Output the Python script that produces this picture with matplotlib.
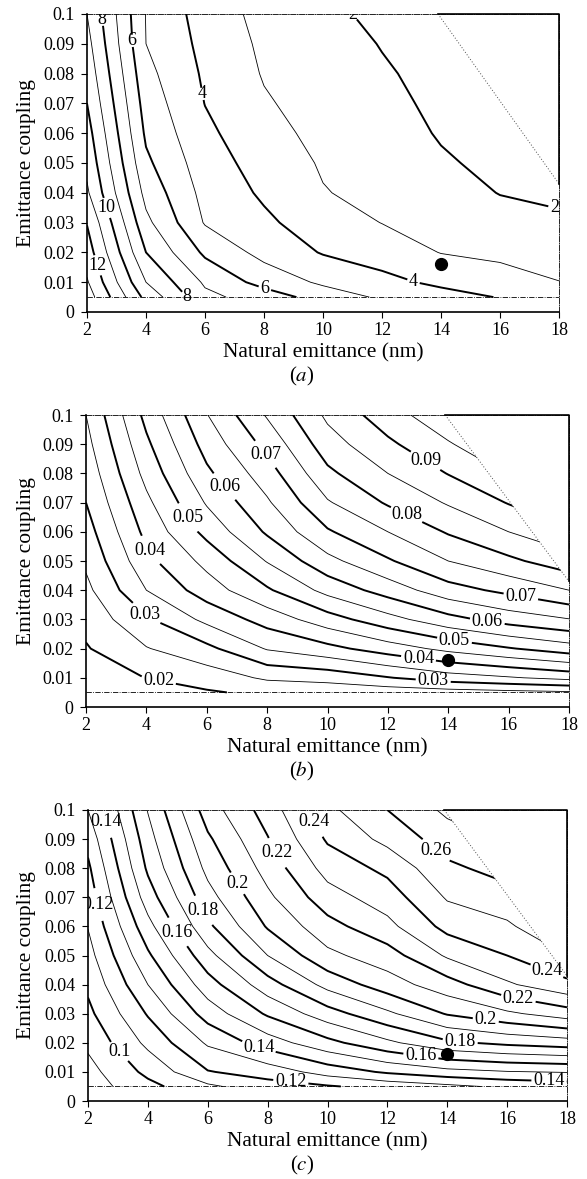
import matplotlib
matplotlib.use('Agg')
import matplotlib.pyplot as plt
import numpy as np
from matplotlib.patches import Polygon

plt.rcParams['font.family'] = ['Liberation Serif', 'DejaVu Serif']
plt.rcParams['mathtext.fontset'] = 'stix'

# grid: columns follow emit_nm, rows follow coupling
emit_nm = [2, 4, 6, 8, 10, 12, 14, 16, 18]
coupling = [0.005, 0.01, 0.02, 0.03, 0.04, 0.05, 0.06, 0.07, 0.08, 0.09, 0.1]

a_vals = [
    [13.5, 9.7, 7.25, 6.55, 5.55, 4.85, 4.4, 3.95, 3.65],
    [13.1, 9.0, 6.85, 5.63, 4.83, 4.29, 3.78, 3.47, 3.02],
    [12.5, 8.0, 5.81, 4.68, 3.93, 3.53, 2.97, 2.76, 2.58],
    [11.95, 7.25, 4.92, 4.19, 3.47, 2.98, 2.68, 2.36, 2.13],
    [11.15, 6.68, 4.68, 3.85, 3.05, 2.72, 2.40, 1.97, 1.85],
    [10.75, 6.20, 4.45, 3.60, 2.90, 2.56, 2.10, 1.80, 1.70],
    [10.4, 5.83, 4.21, 3.35, 2.71, 2.38, 1.93, 1.68, 1.60],
    [10.0, 5.56, 3.98, 3.10, 2.61, 2.23, 1.82, 1.60, 1.52],
    [9.65, 5.28, 3.85, 2.93, 2.52, 2.10, 1.73, 1.53, 1.46],
    [9.33, 5.00, 3.72, 2.82, 2.39, 1.96, 1.65, 1.47, 1.41],
    [9.0, 4.96, 3.55, 2.70, 2.15, 1.85, 1.58, 1.42, 1.36],
]
b_vals = [
    [0.0155, 0.0165, 0.0195, 0.0210, 0.0215, 0.0220, 0.0228, 0.0236, 0.0243],
    [0.0172, 0.0201, 0.0222, 0.0258, 0.0268, 0.0297, 0.0327, 0.0345, 0.0365],
    [0.0196, 0.0247, 0.0287, 0.0354, 0.0385, 0.0425, 0.0464, 0.0496, 0.0527],
    [0.0215, 0.0293, 0.0363, 0.0420, 0.0478, 0.0532, 0.0583, 0.0622, 0.0648],
    [0.0237, 0.0350, 0.0425, 0.0493, 0.0566, 0.0622, 0.0680, 0.0713, 0.0750],
    [0.0259, 0.0386, 0.0465, 0.0553, 0.0635, 0.0694, 0.0750, 0.0789, 0.0830],
    [0.0279, 0.0414, 0.0515, 0.0607, 0.0694, 0.0750, 0.0805, 0.0850, 0.0890],
    [0.0300, 0.0438, 0.0555, 0.0643, 0.0745, 0.0806, 0.0855, 0.0903, 0.0947],
    [0.0317, 0.0466, 0.0590, 0.0677, 0.0789, 0.0850, 0.0902, 0.0953, 0.0997],
    [0.0334, 0.0490, 0.0620, 0.0715, 0.0828, 0.0890, 0.0945, 0.0997, 0.1045],
    [0.0350, 0.0515, 0.0648, 0.0755, 0.0860, 0.0928, 0.0986, 0.1040, 0.1090],
]
c_vals = [
    [0.085, 0.097, 0.108, 0.116, 0.119, 0.1235, 0.1275, 0.132, 0.1345],
    [0.0865, 0.1026, 0.1194, 0.1242, 0.1342, 0.1415, 0.1467, 0.1494, 0.1506],
    [0.092, 0.1125, 0.1314, 0.1451, 0.157, 0.1678, 0.1781, 0.1824, 0.1853],
    [0.0975, 0.1209, 0.1444, 0.1614, 0.1756, 0.188, 0.2008, 0.2081, 0.2151],
    [0.102, 0.130, 0.1556, 0.1757, 0.1933, 0.2053, 0.2157, 0.2285, 0.2374],
    [0.1063, 0.1383, 0.1667, 0.190, 0.2075, 0.2155, 0.2314, 0.240, 0.250],
    [0.1104, 0.1467, 0.1778, 0.201, 0.2164, 0.2271, 0.2432, 0.2483, 0.260],
    [0.1144, 0.155, 0.1862, 0.2079, 0.2258, 0.235, 0.251, 0.2562, 0.270],
    [0.1181, 0.1617, 0.1928, 0.2139, 0.2338, 0.2425, 0.2579, 0.2638, 0.278],
    [0.1233, 0.1661, 0.1983, 0.2194, 0.2413, 0.2529, 0.265, 0.2715, 0.286],
    [0.130, 0.1705, 0.205, 0.2245, 0.2475, 0.260, 0.2721, 0.279, 0.294],
]

a_major = [2, 4, 6, 8, 10, 12]
a_minor = [3, 5, 7, 9, 11, 13]
b_major = [0.02, 0.03, 0.04, 0.05, 0.06, 0.07, 0.08, 0.09]
b_minor = [0.025, 0.035, 0.045, 0.055, 0.065, 0.075, 0.085, 0.095]
c_major = [0.10, 0.12, 0.14, 0.16, 0.18, 0.20, 0.22, 0.24, 0.26]
c_minor = [0.09, 0.11, 0.13, 0.15, 0.17, 0.19, 0.21, 0.23, 0.25, 0.27]

# upper right corner was not computed
edge_x = [13.9, 18.0]
edge_y = [0.1, 0.043]

design_x = 14
design_y = 0.016

ytick_text = ['0', '0.01', '0.02', '0.03', '0.04', '0.05', '0.06', '0.07', '0.08', '0.09', '0.1']

# where the inline labels sit
a_spots = [(2.45, 0.098), (3.55, 0.091), (5.8, 0.073), (10.9, 0.099), (2.7, 0.035),
           (2.3, 0.0155), (5.4, 0.0055), (8.0, 0.007), (13.0, 0.0085), (17.8, 0.033)]
b_spots = [(8.0, 0.087), (6.6, 0.0756), (5.33, 0.0646), (4.17, 0.054), (3.9, 0.031),
           (4.4, 0.0088), (13.2, 0.0836), (12.6, 0.0655), (16.4, 0.0376), (15.3, 0.0297),
           (14.2, 0.0224), (13.0, 0.0156), (13.5, 0.0088)]
c_spots = [(2.53, 0.0958), (2.34, 0.0675), (2.85, 0.0153), (4.83, 0.057), (5.78, 0.0651),
           (6.99, 0.0748), (8.26, 0.085), (9.66, 0.0964), (13.67, 0.0867), (17.3, 0.044),
           (16.34, 0.0334), (15.26, 0.026), (14.43, 0.0204), (13.1, 0.0142), (7.63, 0.0164),
           (8.77, 0.0062), (17.4, 0.0066)]


def draw_panel(ax, vals, major, minor, spots, tag):
    X, Y = np.meshgrid(emit_nm, coupling)
    Z = np.array(vals)
    region = Polygon([(emit_nm[0], 0), (emit_nm[-1], 0), (emit_nm[-1], edge_y[1]),
                      (edge_x[0], edge_y[0]), (emit_nm[0], coupling[-1])],
                     closed=True, transform=ax.transData)
    cs1 = ax.contour(X, Y, Z, levels=minor, colors='k', linewidths=0.6)
    cs2 = ax.contour(X, Y, Z, levels=major, colors='k', linewidths=1.4)
    cs1.set_clip_path(region)
    cs2.set_clip_path(region)
    labels = ax.clabel(cs2, fmt='%g', manual=spots, inline=True, fontsize=13,
                       inline_spacing=2)
    for t in labels:
        t.set_rotation(0)

    ax.axhline(coupling[0], color='k', lw=0.6, ls='-.')
    ax.plot(edge_x, edge_y, color='0.3', lw=0.7, ls=(0, (1, 2)))
    ax.plot([edge_x[0], emit_nm[-1], emit_nm[-1]], [coupling[-1], coupling[-1], edge_y[1]],
            color='k', lw=1.2, clip_on=False)
    ax.plot(design_x, design_y, 'o', color='k', ms=8.5)

    ax.set_xlim(2, 18)
    ax.set_ylim(0, 0.1)
    ax.set_xticks(range(2, 19, 2))
    ax.set_yticks(np.linspace(0, 0.1, 11))
    ax.set_yticklabels(ytick_text)
    ax.tick_params(direction='out', length=4, width=0.8, labelsize=13)
    ax.tick_params(axis='y', pad=5)
    ax.tick_params(axis='x', pad=3)
    for s in ['left', 'bottom']:
        ax.spines[s].set_linewidth(1.2)
    for s in ['top', 'right']:
        ax.spines[s].set_linewidth(0.6)
        ax.spines[s].set_linestyle('-.')

    h = ax.get_position().height * 1179
    w = ax.get_position().width * 587
    x0 = ax.get_position().x0 * 587
    ax.set_xlabel('Natural emittance (nm)', fontsize=15.5, va='center')
    ax.xaxis.set_label_coords(0.5, -41 / h)
    ax.set_ylabel('Emittance coupling', fontsize=15.5, va='center')
    ax.yaxis.set_label_coords((27 - x0) / w, 0.5)
    ax.text((302 - x0) / w, -64 / h, tag, transform=ax.transAxes, ha='center',
            va='center', fontsize=15)


fig = plt.figure(figsize=(5.87, 11.79), dpi=100)
ax_a = fig.add_axes([87 / 587, 1 - 312 / 1179, 472 / 587, 298 / 1179])
ax_b = fig.add_axes([86 / 587, 1 - 707 / 1179, 483 / 587, 292 / 1179])
ax_c = fig.add_axes([88 / 587, 1 - 1101 / 1179, 479 / 587, 291 / 1179])

draw_panel(ax_a, a_vals, a_major, a_minor, a_spots, r'($a$)')
draw_panel(ax_b, b_vals, b_major, b_minor, b_spots, r'($b$)')
draw_panel(ax_c, c_vals, c_major, c_minor, c_spots, r'($c$)')

fig.savefig('out.png', dpi=100)
